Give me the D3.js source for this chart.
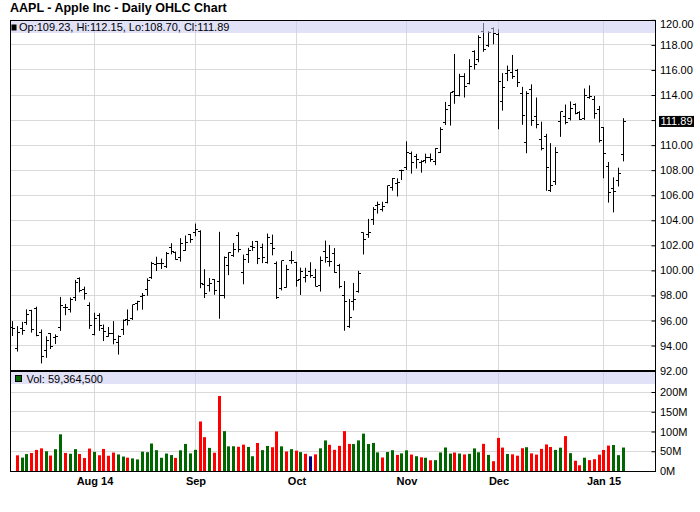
<!DOCTYPE html>
<html><head><meta charset="utf-8">
<script src="https://cdn.jsdelivr.net/npm/d3@7"></script>
<style>body{margin:0;background:#fff}svg{display:block}text{font-family:"Liberation Sans",Arial,sans-serif}</style>
</head><body><svg id="c" width="700" height="512"></svg>
<script>
const dates = [
"2014-07-09","2014-07-10","2014-07-11","2014-07-14","2014-07-15","2014-07-16","2014-07-17","2014-07-18","2014-07-21","2014-07-22","2014-07-23","2014-07-24","2014-07-25","2014-07-28","2014-07-29","2014-07-30","2014-07-31",
"2014-08-01","2014-08-04","2014-08-05","2014-08-06","2014-08-07","2014-08-08","2014-08-11","2014-08-12","2014-08-13","2014-08-14","2014-08-15","2014-08-18","2014-08-19","2014-08-20","2014-08-21","2014-08-22","2014-08-25","2014-08-26","2014-08-27","2014-08-28","2014-08-29",
"2014-09-02","2014-09-03","2014-09-04","2014-09-05","2014-09-08","2014-09-09","2014-09-10","2014-09-11","2014-09-12","2014-09-15","2014-09-16","2014-09-17","2014-09-18","2014-09-19","2014-09-22","2014-09-23","2014-09-24","2014-09-25","2014-09-26","2014-09-29","2014-09-30",
"2014-10-01","2014-10-02","2014-10-03","2014-10-06","2014-10-07","2014-10-08","2014-10-09","2014-10-10","2014-10-13","2014-10-14","2014-10-15","2014-10-16","2014-10-17","2014-10-20","2014-10-21","2014-10-22","2014-10-23","2014-10-24","2014-10-27","2014-10-28","2014-10-29","2014-10-30","2014-10-31",
"2014-11-03","2014-11-04","2014-11-05","2014-11-06","2014-11-07","2014-11-10","2014-11-11","2014-11-12","2014-11-13","2014-11-14","2014-11-17","2014-11-18","2014-11-19","2014-11-20","2014-11-21","2014-11-24","2014-11-25","2014-11-26","2014-11-28",
"2014-12-01","2014-12-02","2014-12-03","2014-12-04","2014-12-05","2014-12-08","2014-12-09","2014-12-10","2014-12-11","2014-12-12","2014-12-15","2014-12-16","2014-12-17","2014-12-18","2014-12-19","2014-12-22","2014-12-23","2014-12-24","2014-12-26","2014-12-29","2014-12-30","2014-12-31",
"2015-01-02","2015-01-05","2015-01-06","2015-01-07","2015-01-08"];
const opens = [95.44,93.76,95.36,95.86,96.80,96.97,95.03,93.62,94.99,94.68,95.42,97.04,96.85,97.82,99.33,98.44,97.16,
94.90,96.37,95.36,94.75,94.93,94.26,95.27,96.04,96.15,97.33,97.90,98.49,99.41,100.44,100.57,100.29,101.79,101.42,101.02,101.59,102.86,
103.06,103.10,98.85,98.80,99.30,99.08,98.01,100.41,101.21,102.81,99.80,101.27,101.93,102.29,101.80,100.60,102.16,100.51,98.53,98.65,100.81,
100.59,99.27,99.44,99.95,99.43,98.76,101.54,100.69,101.33,100.39,97.97,95.55,97.50,98.32,103.02,102.84,104.08,105.18,104.85,105.40,106.65,106.96,108.01,
108.22,109.36,109.10,108.60,108.75,109.02,108.70,109.38,111.80,113.15,114.27,113.94,115.44,114.91,117.51,116.85,119.07,117.94,119.27,
118.81,113.50,115.75,115.77,115.99,114.10,110.19,114.41,112.26,110.46,110.70,106.37,107.12,111.87,112.26,112.16,113.23,112.58,112.10,113.79,113.64,112.82,
111.39,108.29,106.54,107.20,109.23];
const highs = [95.95,95.55,95.89,96.89,96.85,97.10,95.28,94.74,95.00,94.89,97.88,97.32,97.84,99.24,99.44,98.70,97.45,
96.62,96.58,95.68,95.48,95.95,94.82,96.08,96.88,97.24,97.57,98.19,99.37,100.68,101.09,100.94,101.47,102.17,101.50,102.57,102.78,102.90,
103.74,103.20,100.09,99.39,99.31,103.08,101.11,101.44,102.19,103.05,101.26,101.80,102.35,102.35,102.14,102.94,102.85,100.71,100.75,100.44,101.54,
100.69,100.22,100.21,100.65,100.12,101.11,102.38,102.03,101.78,100.52,99.15,97.72,99.00,99.96,103.02,104.11,105.05,105.49,105.48,106.74,107.37,107.35,108.04,
110.30,109.49,109.30,108.79,109.32,109.33,109.75,111.43,113.45,114.19,117.28,115.69,115.74,116.86,117.57,118.77,119.75,119.10,119.40,
119.25,115.75,116.35,117.20,116.08,114.65,114.30,114.85,113.80,111.87,110.90,110.16,109.84,112.65,113.24,113.49,113.33,112.71,114.52,114.77,113.92,113.13,
111.44,108.65,107.43,108.20,112.15];
const lows = [94.76,93.52,94.86,95.65,95.03,94.74,92.57,93.02,93.72,94.12,95.17,96.42,96.64,97.55,98.25,97.67,95.33,
94.81,95.17,94.36,94.71,94.10,93.28,94.84,95.61,96.04,96.80,96.86,97.98,99.32,99.95,100.11,100.19,101.28,100.86,100.70,101.56,102.20,
102.72,98.58,97.79,98.31,98.05,96.14,97.76,99.62,101.08,101.44,98.89,100.59,101.56,100.50,100.58,100.54,101.20,97.72,98.40,98.63,100.53,
98.70,98.04,99.04,99.42,98.73,98.31,100.61,100.30,99.81,98.57,95.18,95.41,96.81,98.22,101.27,102.60,103.63,104.53,104.70,105.35,106.36,105.90,107.21,
108.01,107.72,108.13,107.80,108.55,108.67,108.40,109.37,111.60,111.56,113.30,113.89,113.80,114.85,116.03,116.62,117.45,117.83,118.05,
111.27,112.75,115.11,115.29,114.64,111.62,109.35,111.54,111.34,109.58,106.35,106.26,106.82,110.66,111.66,111.97,112.46,112.01,112.01,113.70,112.11,110.21,
107.35,105.41,104.63,106.70,108.70];
const closes = [95.39,95.04,95.22,96.45,95.32,94.78,93.09,94.43,93.94,94.72,97.19,97.03,97.67,99.02,98.38,98.15,95.60,
96.13,95.59,95.12,94.96,94.48,94.74,95.99,95.97,97.24,97.50,97.98,99.16,100.53,100.57,100.58,101.32,101.54,100.89,102.13,102.25,102.50,
103.30,98.94,98.12,98.97,98.36,97.99,101.00,101.43,101.66,101.63,100.86,101.58,101.79,100.96,101.06,102.64,101.75,97.87,100.75,100.11,100.75,
99.18,99.90,99.62,99.62,98.75,100.80,101.02,100.73,99.81,98.75,97.54,96.26,97.67,99.76,102.47,102.99,104.83,105.22,105.11,106.74,107.34,106.98,108.00,
109.40,108.60,108.86,108.70,109.01,108.83,109.70,111.25,112.82,114.18,113.99,115.47,114.67,116.31,116.47,118.63,117.60,119.00,118.93,
115.07,114.63,115.93,115.49,115.00,112.40,114.12,111.95,111.62,109.73,108.23,106.75,109.41,112.65,111.78,112.94,112.54,112.01,113.99,113.91,112.52,110.38,
109.33,106.25,106.26,107.75,111.89];
// volume in millions (first day not drawn in the reference)
const volumes = [null,39.7,34.0,42.8,45.5,53.4,57.3,49.9,39.1,55.2,92.9,45.7,43.5,55.3,43.1,33.0,56.8,
48.5,39.9,55.9,38.6,46.7,41.9,36.6,33.8,31.9,29.3,48.9,47.6,69.6,52.7,33.5,44.2,40.3,33.2,52.4,68.5,44.6,
53.6,125.4,85.7,58.5,46.3,189.8,100.9,62.4,62.6,61.3,66.8,60.9,37.3,70.9,52.8,63.4,60.2,100.1,62.4,49.4,55.3,
51.5,47.8,43.5,37.1,42.1,57.4,77.4,66.3,53.6,63.7,100.9,68.6,68.2,77.5,94.6,68.3,71.1,47.1,34.2,48.0,52.7,40.7,44.6,
52.3,41.6,37.4,34.7,33.5,27.2,27.4,46.9,59.5,44.1,46.7,44.2,41.9,43.4,57.2,47.4,68.8,40.8,24.8,
83.8,59.3,43.1,42.2,38.8,57.7,60.2,44.6,41.5,56.0,67.2,60.8,53.4,59.0,88.4,45.2,26.0,14.5,33.7,27.6,29.9,41.4,
53.2,64.3,65.8,40.1,59.4];
const priceTicks = [92,94,96,98,100,102,104,106,108,110,112,114,116,118,120];
const volTicks = [0,50,100,150,200];
const monthTickDates = ["2014-08-01","2014-09-02","2014-10-01","2014-11-03","2014-12-01","2015-01-02"];
const monthTickLabels = ["Aug 14","Sep","Oct","Nov","Dec","Jan 15"];
const titleText = "AAPL - Apple Inc - Daily OHLC Chart";
const lastVolumeText = "Vol: 59,364,500";

const svg = d3.select("#c");
const L = 10, R = 655.5, TOP = 20, SEP = 371, BOT = 471;
const GRID = "#d9d9d9";
const x = d3.scalePoint().domain(dates).range([13, 623.6]);
const y = d3.scaleLinear().domain([92,120]).range([370.6, 19.85]);
const yv = d3.scaleLinear().domain([0,200]).range([471, 392]);
const cx = d => Math.round(x(d)) - 0.5;
const cy = v => Math.round(v - 0.5) + 0.5;
const n = dates.length;
const idx = d3.range(n);

// gridlines
const g = svg.append("g");
g.selectAll("line.hp").data(priceTicks.filter(t => t > 92 && t < 120)).join("line")
  .attr("x1", L).attr("x2", R).attr("y1", t => cy(y(t))).attr("y2", t => cy(y(t)))
  .attr("stroke", GRID);
g.selectAll("line.hv").data(volTicks.filter(t => t > 0)).join("line")
  .attr("x1", L).attr("x2", R).attr("y1", t => cy(yv(t))).attr("y2", t => cy(yv(t)))
  .attr("stroke", GRID);
g.selectAll("line.vv").data(monthTickDates).join("line")
  .attr("x1", d => cx(d)).attr("x2", d => cx(d)).attr("y1", TOP).attr("y2", BOT)
  .attr("stroke", GRID);

// OHLC bars
const ob = svg.append("g").attr("stroke", "#000").attr("stroke-width", 1);
ob.selectAll("line.hl").data(idx).join("line")
  .attr("x1", i => cx(dates[i])).attr("x2", i => cx(dates[i]))
  .attr("y1", i => y(highs[i])).attr("y2", i => y(lows[i]));
ob.selectAll("line.op").data(idx).join("line")
  .attr("x1", i => cx(dates[i]) - 2.5).attr("x2", i => cx(dates[i]))
  .attr("y1", i => cy(y(opens[i]))).attr("y2", i => cy(y(opens[i])));
ob.selectAll("line.cl").data(idx).join("line")
  .attr("x1", i => cx(dates[i])).attr("x2", i => cx(dates[i]) + 2.5)
  .attr("y1", i => cy(y(closes[i]))).attr("y2", i => cy(y(closes[i])));

// volume bars
const volColor = i => closes[i] > closes[i-1] ? "#006600" : (closes[i] < closes[i-1] ? "#ff0000" : "#000080");
svg.append("g").selectAll("rect").data(idx.filter(i => volumes[i] != null)).join("rect")
  .attr("x", i => Math.round(x(dates[i])) - 2).attr("width", 3)
  .attr("y", i => yv(volumes[i])).attr("height", i => BOT - yv(volumes[i]))
  .attr("fill", volColor);

// legend bands (translucent overlays)
svg.append("rect").attr("x", L).attr("y", TOP).attr("width", R - L).attr("height", 13)
  .attr("fill", "rgb(200,200,240)").attr("opacity", 0.55);
svg.append("rect").attr("x", L).attr("y", 372).attr("width", R - L).attr("height", 12)
  .attr("fill", "rgb(200,200,240)").attr("opacity", 0.55);

// frame lines
svg.append("line").attr("x1", L + 0.5).attr("x2", L + 0.5).attr("y1", TOP).attr("y2", BOT + 1).attr("stroke", "#000");
svg.append("line").attr("x1", L).attr("x2", R + 0.5).attr("y1", BOT + 0.5).attr("y2", BOT + 0.5).attr("stroke", "#000");
svg.append("line").attr("x1", L).attr("x2", R + 0.5).attr("y1", SEP).attr("y2", SEP).attr("stroke", "#000").attr("stroke-width", 2);
svg.append("line").attr("x1", L).attr("x2", R + 0.5).attr("y1", TOP + 0.5).attr("y2", TOP + 0.5).attr("stroke", "#000");

// right axes
const fmt2 = d3.format(".2f");
const pa = svg.append("g").attr("transform", `translate(${R},0)`)
  .call(d3.axisRight(y).tickValues(priceTicks).tickFormat(fmt2).tickSize(-4).tickSizeOuter(0).tickPadding(4.5));
const va = svg.append("g").attr("transform", `translate(${R},0)`)
  .call(d3.axisRight(yv).tickValues(volTicks).tickFormat(d => d + "M").tickSize(-4).tickSizeOuter(0).tickPadding(4.5));
[pa, va].forEach(a => {
  a.select(".domain").remove();
  a.selectAll("text").attr("font-size", 11).attr("font-family", '"Liberation Sans",Arial,sans-serif').attr("fill", "#000");
  a.selectAll("line").attr("stroke", "#000");
});
pa.selectAll(".tick").filter(d => d === 120).select("text").attr("dy", "0.67em");
svg.append("line").attr("x1", R).attr("x2", R).attr("y1", TOP).attr("y2", BOT + 1).attr("stroke", "#000");

// last close marker
const lastClose = closes[n - 1];
const lc = svg.append("g").attr("transform", `translate(${R + 3.5},${y(lastClose)})`);
lc.append("rect").attr("x", 0).attr("y", -5.5).attr("width", 35).attr("height", 11).attr("fill", "#000");
lc.append("text").attr("x", 1.5).attr("dy", "0.35em").attr("font-size", 11).attr("fill", "#fff").text(fmt2(lastClose));

// bottom axis
const xa = svg.append("g").attr("transform", `translate(0,${BOT})`)
  .call(d3.axisBottom(x).tickValues(monthTickDates).tickFormat((d, i) => monthTickLabels[i]).tickSize(0).tickPadding(6));
xa.select(".domain").remove();
xa.selectAll("text").attr("font-size", 11).attr("font-weight", "bold").attr("font-family", '"Liberation Sans",Arial,sans-serif').attr("fill", "#000")
  .attr("x", 0).attr("transform", function(d){ return `translate(${cx(d) - x(d)},0)`; });

// title
svg.append("text").attr("x", 10).attr("y", 12).attr("font-size", 12.5).attr("font-weight", "bold").text(titleText);

// price legend
svg.append("rect").attr("x", 11.5).attr("y", 24.5).attr("width", 5).attr("height", 6).attr("fill", "#000");
svg.append("text").attr("x", 19).attr("y", 31).attr("font-size", 11)
  .text(`Op:${fmt2(opens[n-1])}, Hi:${fmt2(highs[n-1])}, Lo:${fmt2(lows[n-1])}, Cl:${fmt2(closes[n-1])}`);

// volume legend
svg.append("rect").attr("x", 15.5).attr("y", 375.5).attr("width", 6).attr("height", 6).attr("fill", "#006600").attr("stroke", "#000");
svg.append("text").attr("x", 26.5).attr("y", 383).attr("font-size", 11).text(lastVolumeText);
</script></body></html>
